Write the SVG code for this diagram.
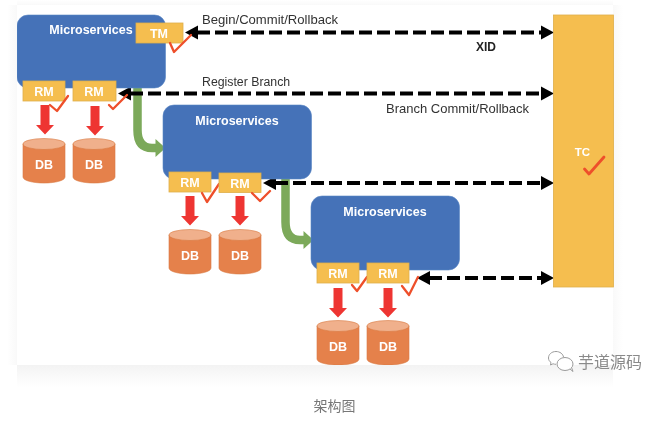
<svg xmlns="http://www.w3.org/2000/svg" width="647" height="421" viewBox="0 0 647 421">
<style>
text{font-family:"Liberation Sans","Noto Sans CJK SC",sans-serif}
.blue{fill:#4472b8;stroke:#5b86c4;stroke-width:.6}
.y{fill:#f5be50;stroke:#dfae4a;stroke-width:.8}
.w{fill:#fff;font-weight:bold;text-anchor:middle}
.lbl{fill:#333}
.dash{fill:none;stroke:#000;stroke-width:3.8;stroke-dasharray:13 5}
.head{fill:#000}
.red{fill:#ee3630}
.green{fill:none;stroke:#7ba95a;stroke-width:8.500}
.gh{fill:#7ba95a}
.chk{fill:none;stroke:#ee4f2b;stroke-width:2.300;stroke-linecap:round;stroke-linejoin:round}
.body{fill:#e5814c;stroke:#d8783f;stroke-width:.6}
.lid{fill:#f0b08c;stroke:#d8783f;stroke-width:.6}
</style>
<defs>
<filter id="soft" x="0" y="0" width="1" height="1"><feGaussianBlur stdDeviation="0.35"/></filter>
<symbol id="db" overflow="visible">
<path class="body" d="M0 5V38C0 41.500 9.500 44 21 44S42 41.500 42 38V5Z"/>
<ellipse class="lid" cx="21" cy="5" rx="21" ry="5.500"/>
<text class="w" x="21" y="30" font-size="12.500">DB</text>
</symbol>
<symbol id="down" overflow="visible">
<path class="red" d="M-4.500 0H4.500V20H9L0 29.500L-9 20H-4.500Z"/>
</symbol>
<linearGradient id="fade" x1="0" y1="0" x2="0" y2="1"><stop offset="0" stop-color="#f3f3f3"/><stop offset="1" stop-color="#fff"/></linearGradient>
<linearGradient id="fadeL" x1="1" y1="0" x2="0" y2="0"><stop offset="0" stop-color="#f9f9f9"/><stop offset="1" stop-color="#fff"/></linearGradient>
<linearGradient id="fadeR" x1="0" y1="0" x2="1" y2="0"><stop offset="0" stop-color="#f9f9f9"/><stop offset="1" stop-color="#fff"/></linearGradient>
<linearGradient id="fadeT" x1="0" y1="1" x2="0" y2="0"><stop offset="0" stop-color="#f9f9f9"/><stop offset="1" stop-color="#fff"/></linearGradient>
</defs>
<rect width="647" height="421" fill="#fff"/>
<rect x="17" y="365" width="596" height="22" fill="url(#fade)"/>
<rect x="7" y="5" width="10" height="360" fill="url(#fadeL)"/>
<rect x="613" y="5" width="10" height="360" fill="url(#fadeR)"/>
<rect x="17" y="0" width="596" height="5" fill="url(#fadeT)"/>

<g filter="url(#soft)">
<g id="connectors">
<path class="green" d="M137.500 81V130Q137.500 148 152 148H157"/>
<path class="gh" d="M155.500 139L165.500 148L155.500 157Z"/>
<path class="green" d="M285.500 172V222Q285.500 240 300 240H305"/>
<path class="gh" d="M303.500 231L313.500 240L303.500 249Z"/>
<path class="dash" d="M197 32.500H542"/>
<path class="head" d="M185 32.500L198 25.500V39.500Z"/>
<path class="head" d="M554 32.500L541 25.500V39.500Z"/>
<path class="dash" d="M130 93.500H542"/>
<path class="head" d="M118 93.500L131 86.500V100.500Z"/>
<path class="head" d="M554 93.500L541 86.500V100.500Z"/>
<path class="dash" d="M275 183H542"/>
<path class="head" d="M263 183L276 176V190Z"/>
<path class="head" d="M554 183L541 176V190Z"/>
<path class="dash" d="M429 278H542"/>
<path class="head" d="M417 278L430 271V285Z"/>
<path class="head" d="M554 278L541 271V285Z"/>
<use href="#down" x="45" y="105"/>
<use href="#down" x="95" y="106"/>
<use href="#down" x="190" y="196"/>
<use href="#down" x="240" y="196"/>
<use href="#down" x="338" y="288"/>
<use href="#down" x="388" y="288"/>
</g>

<g id="ms1"><rect class="blue" x="17" y="15" width="148.500" height="73" rx="11"/><text class="w" x="91" y="33.500" font-size="12.500">Microservices</text></g>
<g id="ms2"><rect class="blue" x="163" y="105" width="148.500" height="74" rx="11"/><text class="w" x="237" y="124.500" font-size="12.500">Microservices</text></g>
<g id="ms3"><rect class="blue" x="311" y="196" width="148.500" height="74" rx="11"/><text class="w" x="385" y="215.500" font-size="12.500">Microservices</text></g>

<g id="tm"><rect class="y" x="136" y="23" width="47" height="20"/><text class="w" x="159" y="38" font-size="12.500">TM</text><path class="chk" d="M170 43L174 52L191 35"/></g>
<g id="rm1"><rect class="y" x="23" y="81" width="42" height="20"/><text class="w" x="44" y="95.500" font-size="12.500">RM</text><path class="chk" d="M50 105L57 111L68 96"/></g>
<g id="rm2"><rect class="y" x="73" y="81" width="43" height="20"/><text class="w" x="94" y="95.500" font-size="12.500">RM</text><path class="chk" d="M109 105L113 109L127 95"/></g>
<g id="rm3"><rect class="y" x="169" y="172" width="42" height="20"/><text class="w" x="190" y="187" font-size="12.500">RM</text><path class="chk" d="M202 193L207 202L219 184"/></g>
<g id="rm4"><rect class="y" x="219" y="173" width="42" height="19.500"/><text class="w" x="240" y="187.500" font-size="12.500">RM</text><path class="chk" d="M252 193L260 201L270 191"/></g>
<g id="rm5"><rect class="y" x="317" y="263" width="42" height="20"/><text class="w" x="338" y="277.500" font-size="12.500">RM</text><path class="chk" d="M352 285L357 291L367 277"/></g>
<g id="rm6"><rect class="y" x="367" y="263" width="42" height="20"/><text class="w" x="388" y="277.500" font-size="12.500">RM</text><path class="chk" d="M402 286L409 295L418 277"/></g>

<g id="db1"><use href="#db" x="23" y="139"/></g>
<g id="db2"><use href="#db" x="73" y="139"/></g>
<g id="db3"><use href="#db" x="169" y="230"/></g>
<g id="db4"><use href="#db" x="219" y="230"/></g>
<g id="db5"><use href="#db" x="317" y="321"/></g>
<g id="db6"><use href="#db" x="367" y="321"/></g>

<g id="tc"><rect class="y" x="553.500" y="15" width="60" height="272"/><text class="w" x="582.500" y="156" font-size="11.500">TC</text><path class="chk" style="stroke-width:2.800" d="M584.500 169L589 174L604 157"/></g>

<g id="labels">
<text class="lbl" x="202" y="24" font-size="13.100">Begin/Commit/Rollback</text>
<text class="lbl" x="476" y="51" font-size="12" font-weight="bold" style="fill:#222">XID</text>
<text class="lbl" x="202" y="86" font-size="12.300">Register Branch</text>
<text class="lbl" x="386" y="113" font-size="13">Branch Commit/Rollback</text>
</g>
</g>

<g id="watermark">
<path d="M556 351.500C551.500 351.500 548.500 354.500 548.500 358C548.500 360 549.500 361.500 551 362.500L550.500 365L553 363.800C554 364.200 555 364.300 556 364.300" fill="#fff" stroke="#9a9a9a"/>
<path d="M556 351.500C560 351.500 563 354 563.500 357" fill="none" stroke="#9a9a9a"/>
<ellipse cx="565" cy="364" rx="8" ry="6.500" fill="#fff" stroke="#9a9a9a"/>
<path d="M570 369L573 371.500L571.500 367.500" fill="#fff" stroke="#9a9a9a"/>
<text x="578" y="368" font-size="16" fill="#8a8a8a">芋道源码</text>
</g>
<text id="caption" x="334.500" y="411" font-size="14" fill="#777" text-anchor="middle">架构图</text>
</svg>
